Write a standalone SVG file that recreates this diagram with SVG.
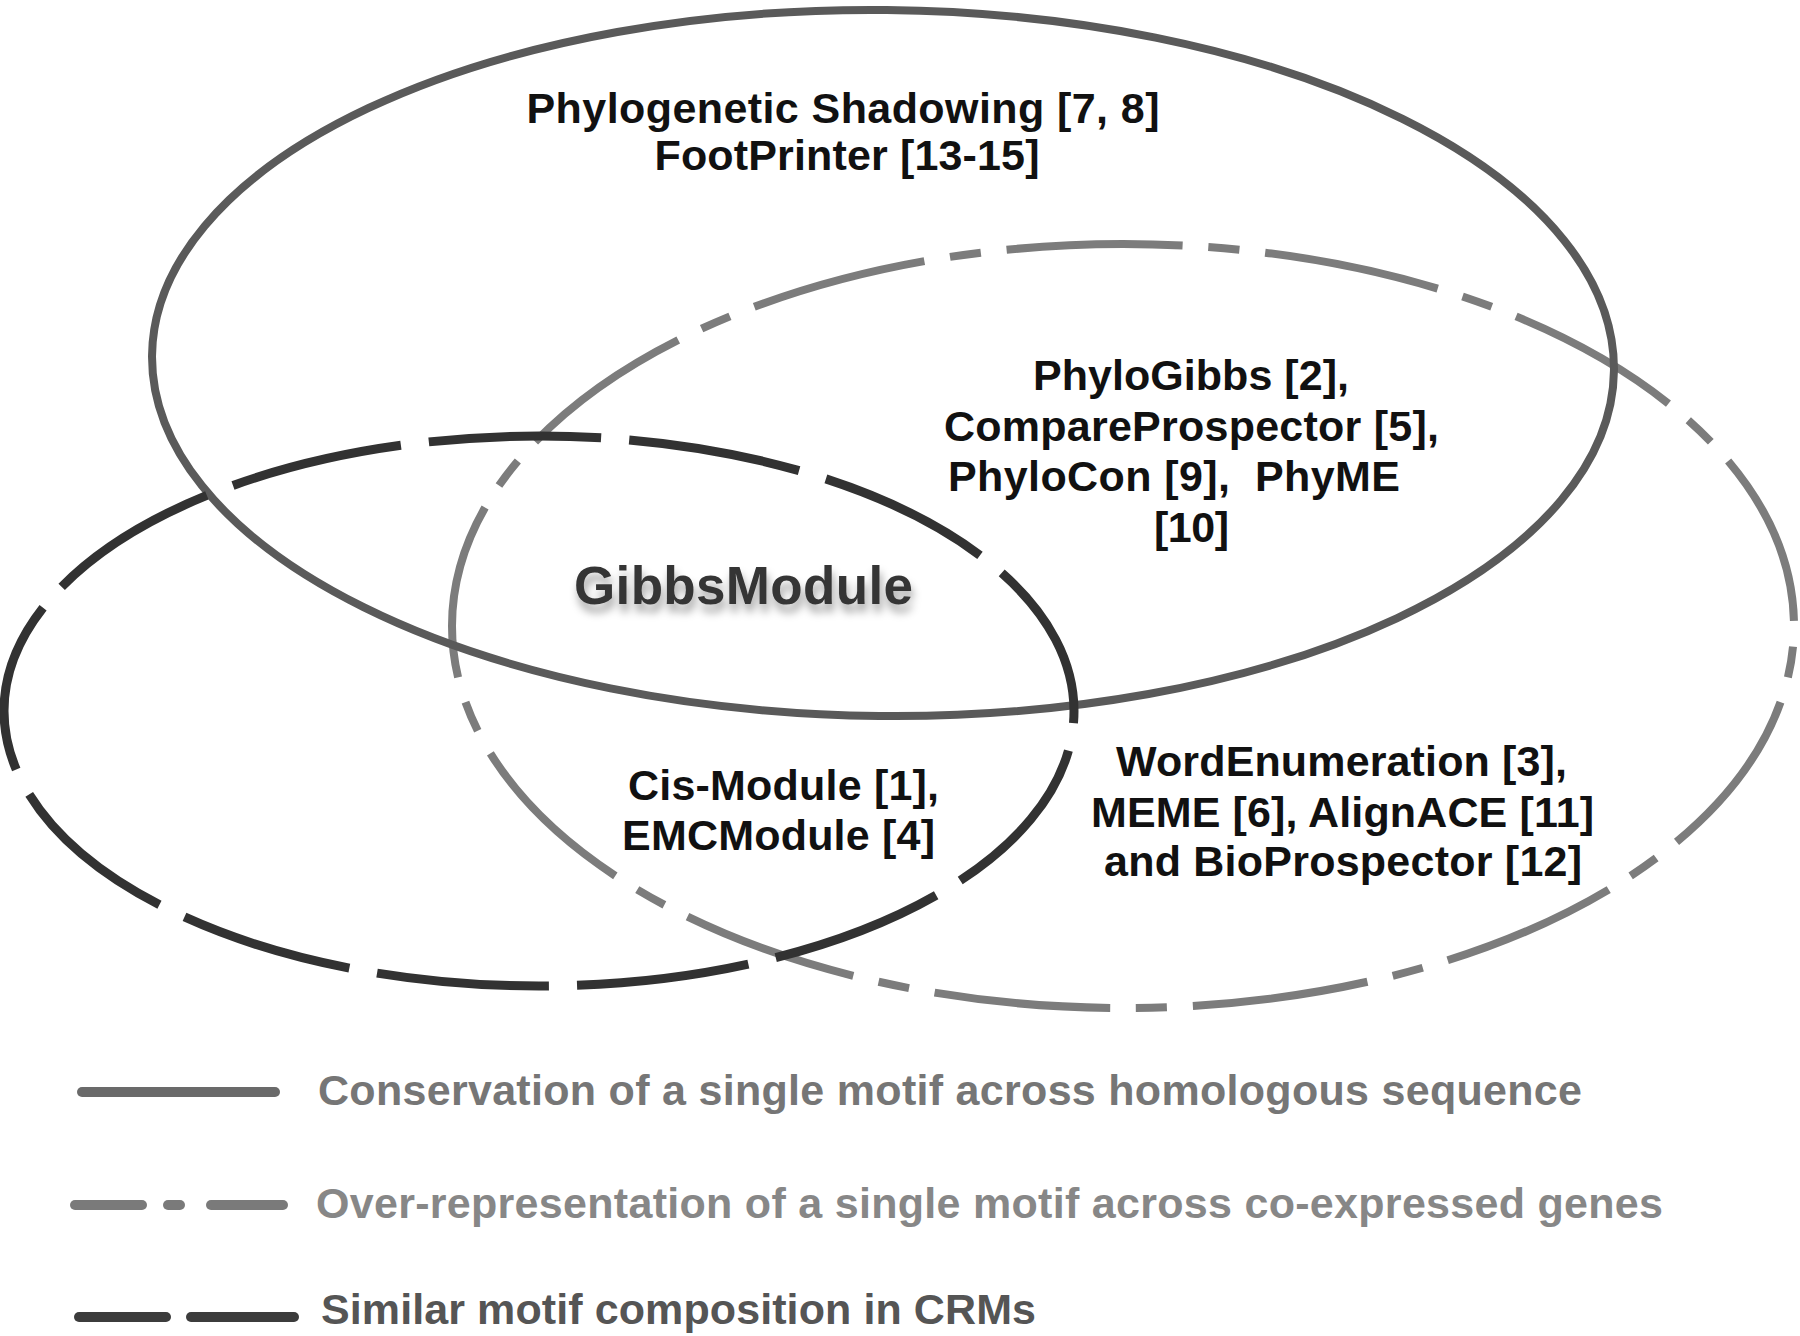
<svg xmlns="http://www.w3.org/2000/svg" width="1800" height="1336" viewBox="0 0 1800 1336">
<defs>
<style>
.lbl{font-family:"Liberation Sans",Arial,sans-serif;font-weight:bold;font-size:43px;fill:#111}
.leg{font-family:"Liberation Sans",Arial,sans-serif;font-weight:bold;font-size:43px}
.e-solid{fill:none;stroke:#5a5a5a;stroke-width:8}
.e-dashdot{fill:none;stroke:#7c7c7c;stroke-width:8;stroke-dasharray:68 10 12 10}
.e-dash{fill:none;stroke:#323232;stroke-width:9;stroke-dasharray:86 14}
</style>
<filter id="shadow" x="-10%" y="-30%" width="120%" height="180%">
<feGaussianBlur in="SourceAlpha" stdDeviation="4"/>
<feOffset dx="2" dy="8" result="b"/>
<feFlood flood-color="#000" flood-opacity="0.35"/>
<feComposite in2="b" operator="in" result="s"/>
<feMerge><feMergeNode in="s"/><feMergeNode in="SourceGraphic"/></feMerge>
</filter>
</defs>
<rect width="1800" height="1336" fill="#fff"/>
<g id="connectors">
<ellipse id="overrep" class="e-dashdot" cx="1123" cy="626" rx="671" ry="382" pathLength="1300" stroke-dashoffset="70"/>
<ellipse id="conservation" class="e-solid" cx="883" cy="363" rx="731" ry="353" transform="rotate(0.6 883 363)"/>
<ellipse id="composition" class="e-dash" cx="539" cy="711" rx="535" ry="275" pathLength="1300" stroke-dashoffset="80"/>
</g>
<g id="node-conservation">
<text class="lbl" x="843" y="123" text-anchor="middle" textLength="633">Phylogenetic Shadowing [7, 8]</text>
<text class="lbl" x="847" y="170" text-anchor="middle" textLength="385">FootPrinter [13-15]</text>
</g>
<g id="node-cons-overrep">
<text class="lbl" x="1033" y="390" textLength="316">PhyloGibbs [2],</text>
<text class="lbl" x="944" y="441" textLength="495">CompareProspector [5],</text>
<text class="lbl" x="948" y="491" textLength="452" xml:space="preserve">PhyloCon [9],  PhyME</text>
<text class="lbl" x="1154" y="542" textLength="75">[10]</text>
</g>
<g id="node-gibbsmodule">
<text x="574" y="604" textLength="339" filter="url(#shadow)" style="font-family:'Liberation Sans',Arial,sans-serif;font-weight:bold;font-size:53px;fill:#363636">GibbsModule</text>
</g>
<g id="node-comp-overrep">
<text class="lbl" x="628" y="800" textLength="311">Cis-Module [1],</text>
<text class="lbl" x="622" y="850" textLength="313">EMCModule [4]</text>
</g>
<g id="node-overrep">
<text class="lbl" x="1116" y="776" textLength="451">WordEnumeration [3],</text>
<text class="lbl" x="1091" y="827" textLength="503">MEME [6], AlignACE [11]</text>
<text class="lbl" x="1104" y="876" textLength="478">and BioProspector [12]</text>
</g>
<g id="legend">
<line x1="82" y1="1092" x2="275" y2="1092" stroke="#6a6a6a" stroke-width="10" stroke-linecap="round"/>
<text class="leg" x="318" y="1105" fill="#767676" textLength="1264">Conservation of a single motif across homologous sequence</text>
<line x1="75" y1="1205" x2="142" y2="1205" stroke="#7a7a7a" stroke-width="10" stroke-linecap="round"/>
<line x1="168" y1="1205" x2="180" y2="1205" stroke="#7a7a7a" stroke-width="10" stroke-linecap="round"/>
<line x1="211" y1="1205" x2="283" y2="1205" stroke="#7a7a7a" stroke-width="10" stroke-linecap="round"/>
<text class="leg" x="316" y="1218" fill="#878787" textLength="1347">Over-representation of a single motif across co-expressed genes</text>
<line x1="79" y1="1317" x2="166" y2="1317" stroke="#3c3c3c" stroke-width="10" stroke-linecap="round"/>
<line x1="191" y1="1317" x2="294" y2="1317" stroke="#3c3c3c" stroke-width="10" stroke-linecap="round"/>
<text class="leg" x="321" y="1324" fill="#555" textLength="715">Similar motif composition in CRMs</text>
</g>
</svg>
